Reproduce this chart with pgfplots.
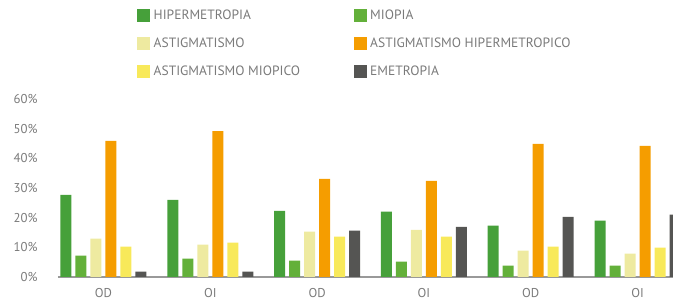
\documentclass[border=0pt]{standalone}
\usepackage{fontspec}
\setmainfont{PT Sans}
\usepackage{pgfplots}
\usepackage{pgfplotstable}
\pgfplotsset{compat=1.18}
\definecolor{chip}{HTML}{46A03A}
\definecolor{cmio}{HTML}{63B03A}
\definecolor{cast}{HTML}{EEEAA0}
\definecolor{cah}{HTML}{F59D00}
\definecolor{cam}{HTML}{F8E95A}
\definecolor{ceme}{HTML}{555553}
\definecolor{txt}{HTML}{7A7A7A}
\pgfplotstableread{
x HIP MIO AST AH AM EME
0 27.7 7.2 12.9 45.9 10.2 1.8
1 26.0 6.2 10.9 49.2 11.6 1.8
2 22.3 5.5 15.3 33.1 13.6 15.6
3 22.0 5.2 15.9 32.4 13.6 16.9
4 17.3 3.8 8.9 44.9 10.2 20.3
5 19.0 3.8 7.9 44.2 9.9 21.0
}\data
\begin{document}
\begin{tikzpicture}
\useasboundingbox (0,0) rectangle (673pt,304pt);
\begin{axis}[
  at={(58pt,27pt)}, anchor=south west,
  scale only axis, width=615pt, height=178pt,
  ybar=4pt, bar width=11pt,
  xmin=-0.426, xmax=5.332, ymin=0, ymax=60,
  xtick={0,1,2,3,4,5},
  xticklabels={OD,OI,OD,OI,OD,OI},
  ytick={0,10,20,30,40,50,60},
  yticklabel={\pgfmathprintnumber{\tick}\%},
  /pgf/number format/assume math mode=true,
  major tick length=0pt,
  axis x line*=bottom,
  axis y line*=left,
  y axis line style={draw=none},
  x axis line style={draw=black!40, line width=1.6pt},
  tick label style={font=\fontsize{12.8}{14}\selectfont, text=txt},
  yticklabel style={xshift=-17pt},
  xticklabel style={yshift=-8pt},
  clip=true,
  legend columns=2,
  legend cell align=left,
  legend style={at={(axis description cs:0.1285,1.515)}, anchor=north west,
    draw=none, fill=none, font=\fontsize{13.5}{15}\selectfont, text=txt,
    row sep=13pt, inner sep=0pt},
  legend image code/.code={\fill[#1,draw=none] (0pt,-6.5pt) rectangle (13pt,6.5pt);},
]
\addplot[fill=chip, draw=none] table[x=x,y=HIP]{\data};
\addlegendentry{\hspace{1.5pt}\makebox[198pt][l]{HIPERMETROPIA}}
\addplot[fill=cmio, draw=none] table[x=x,y=MIO]{\data};
\addlegendentry{\hspace{1.5pt}MIOPIA}
\addplot[fill=cast, draw=none] table[x=x,y=AST]{\data};
\addlegendentry{\hspace{1.5pt}\makebox[198pt][l]{ASTIGMATISMO}}
\addplot[fill=cah, draw=none] table[x=x,y=AH]{\data};
\addlegendentry{\hspace{1.5pt}ASTIGMATISMO HIPERMETROPICO}
\addplot[fill=cam, draw=none] table[x=x,y=AM]{\data};
\addlegendentry{\hspace{1.5pt}\makebox[198pt][l]{ASTIGMATISMO MIOPICO}}
\addplot[fill=ceme, draw=none] table[x=x,y=EME]{\data};
\addlegendentry{\hspace{1.5pt}EMETROPIA}
\end{axis}
\end{tikzpicture}
\end{document}
